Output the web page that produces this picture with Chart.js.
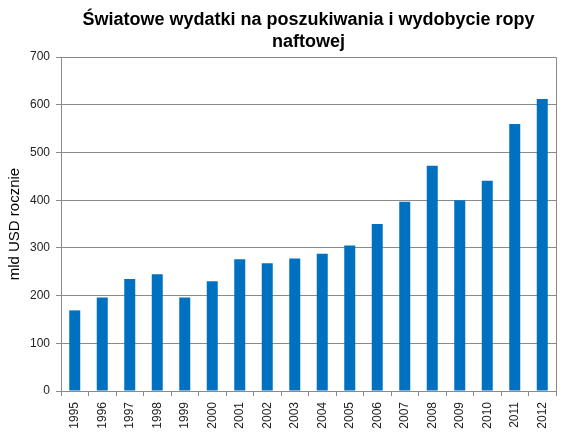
<!DOCTYPE html>
<html>
<head>
<meta charset="utf-8">
<script src="https://cdn.jsdelivr.net/npm/chart.js@4.4.1/dist/chart.umd.min.js"></script>
<style>
    html, body { margin: 0; padding: 0; background: #fff; }
    #wrap { width: 570px; height: 441px; }
</style>
</head>
<body>
<div id="wrap"><canvas id="chart"></canvas></div>
<script>
const years = ['1995', '1996', '1997', '1998', '1999', '2000', '2001', '2002', '2003',
               '2004', '2005', '2006', '2007', '2008', '2009', '2010', '2011', '2012'];
const spending = [169, 196, 235, 245, 196, 230, 276, 268, 278,
                  288, 305, 350, 397, 472, 400, 441, 560, 612];
const yMin = 0;
const yMax = 700;
const yStep = 100;
const chartTitle = ['Światowe wydatki na poszukiwania i wydobycie ropy', 'naftowej'];
const yAxisTitle = 'mld USD rocznie';

const FONT = '"Liberation Sans", Arial, sans-serif';
const GRID = '#8a8a8a';

// right-hand frame line of the plot area
const plotFrame = {
    id: 'plotFrame',
    afterDraw(chart) {
        const { ctx, chartArea } = chart;
        ctx.save();
        ctx.strokeStyle = GRID;
        ctx.lineWidth = 1;
        ctx.beginPath();
        ctx.moveTo(chartArea.right + 0.5, chartArea.top);
        ctx.lineTo(chartArea.right + 0.5, chartArea.bottom);
        ctx.stroke();
        ctx.restore();
    }
};

new Chart(document.getElementById('chart'), {
    type: 'bar',
    data: {
        labels: years,
        datasets: [{
            data: spending,
            backgroundColor: '#0070c0',
            borderWidth: 0,
            categoryPercentage: 1.0,
            barPercentage: 0.4
        }]
    },
    options: {
        responsive: true,
        maintainAspectRatio: false,
        animation: false,
        layout: { padding: { top: 0, right: 14, bottom: 0, left: 0 } },
        plugins: {
            legend: { display: false },
            tooltip: { enabled: false },
            title: {
                display: true,
                text: chartTitle,
                fullSize: false,
                color: '#000',
                font: { family: FONT, size: 18, weight: 'bold', lineHeight: 1.17 },
                padding: { top: 10, bottom: 5 }
            }
        },
        scales: {
            x: {
                grid: {
                    offset: true,
                    drawOnChartArea: false,
                    drawTicks: true,
                    tickLength: 5,
                    color: GRID
                },
                border: { color: GRID },
                ticks: {
                    color: '#222',
                    font: { family: FONT, size: 12 },
                    minRotation: 90,
                    maxRotation: 90,
                    padding: 6,
                    autoSkip: false
                },
                afterFit: scale => { scale.height = 50; }
            },
            y: {
                min: yMin,
                max: yMax,
                grid: { color: GRID, tickLength: 5 },
                border: { color: GRID },
                ticks: {
                    stepSize: yStep,
                    color: '#222',
                    font: { family: FONT, size: 12 },
                    padding: 6
                },
                title: {
                    display: true,
                    text: yAxisTitle,
                    color: '#000',
                    font: { family: FONT, size: 15 },
                    padding: { top: 6, bottom: 0 }
                },
                afterFit: scale => { scale.width = 61; }
            }
        }
    },
    plugins: [plotFrame]
});
</script>
</body>
</html>
